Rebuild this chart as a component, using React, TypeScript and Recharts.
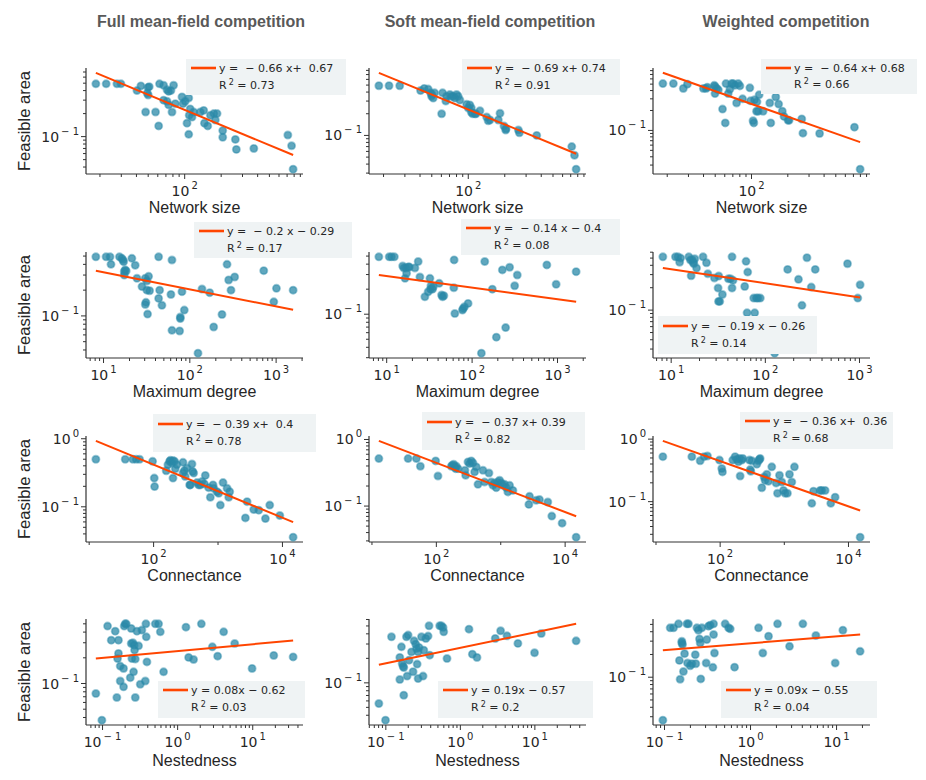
import { ScatterChart, Scatter, XAxis, YAxis } from 'recharts'

type Pair = [number, number]

// ---- data: [x, feasible area] ----
// row 1: network size
const sizeFull: Pair[] = [
  [18.5, 0.49], [22.5, 0.49], [27.6, 0.49], [29.8, 0.49], [40.4, 0.4], [43.5, 0.46], [49.8, 0.44], [51, 0.45],
  [50, 0.35], [49.1, 0.37], [47.6, 0.21], [57.5, 0.21], [61, 0.138], [62, 0.49], [67, 0.47], [71.5, 0.41],
  [73.8, 0.39], [77, 0.4], [81, 0.47], [67, 0.3], [71.5, 0.29], [78.6, 0.21], [73.8, 0.26], [83.7, 0.27],
  [95, 0.33], [96.9, 0.27], [108, 0.32], [101, 0.29], [111, 0.23], [109, 0.19], [115, 0.18], [118.6, 0.21],
  [134.6, 0.21], [104.5, 0.15], [108, 0.107], [143.5, 0.22], [145.5, 0.15], [155, 0.138], [163, 0.19],
  [174, 0.2], [185, 0.2], [179, 0.165], [206, 0.12], [206, 0.098], [262, 0.092], [267, 0.068], [372, 0.07],
  [710, 0.105], [762, 0.076], [785, 0.0375],
]
const sizeSoft: Pair[] = [
  [18.3, 0.49], [22.2, 0.49], [27.2, 0.49], [40.4, 0.42], [43.3, 0.45], [46.7, 0.44], [48.9, 0.39], [49.8, 0.35],
  [50.3, 0.37], [51.4, 0.33], [52.7, 0.39], [60.3, 0.2], [61.4, 0.39], [65.3, 0.3], [66.2, 0.35], [70.5, 0.37],
  [72.8, 0.35], [75.2, 0.35], [77.6, 0.33], [80.1, 0.37], [82.6, 0.35], [85.3, 0.31], [96.9, 0.27], [100, 0.24],
  [103, 0.265], [106, 0.24], [106, 0.21], [108.6, 0.2], [113.5, 0.2], [124.8, 0.22], [115.7, 0.2], [141.8, 0.18],
  [146, 0.16], [151, 0.164], [177, 0.164], [182.8, 0.203], [197, 0.135], [203.6, 0.119], [204.8, 0.124],
  [259, 0.119], [264, 0.109], [367, 0.1], [714, 0.07], [752, 0.053], [776, 0.034],
]
const sizeWeighted: Pair[] = [
  [18.4, 0.51], [22.5, 0.51], [27.2, 0.43], [29.4, 0.5], [39.9, 0.43], [42, 0.43], [43, 0.45], [49.1, 0.48],
  [49.8, 0.46], [49.8, 0.36], [51.4, 0.43], [53.1, 0.41], [57.5, 0.21], [60.6, 0.13], [61.4, 0.51], [64.1, 0.36],
  [66.2, 0.42], [68.4, 0.51], [70.5, 0.51], [72.8, 0.48], [75.2, 0.26], [77.6, 0.51], [80.1, 0.47], [84.3, 0.3],
  [96.9, 0.44], [98.1, 0.28], [103, 0.14], [104.5, 0.13], [106, 0.29], [110, 0.195], [111, 0.27], [113.5, 0.195],
  [115.7, 0.345], [124.8, 0.195], [141.8, 0.26], [144.5, 0.13], [159, 0.32], [168, 0.25], [180, 0.195],
  [186, 0.163], [201, 0.142], [205, 0.142], [261, 0.149], [267, 0.091], [367, 0.09], [714, 0.112], [796, 0.026],
]

// row 2: maximum degree
const degreeFull: Pair[] = [
  [8.15, 0.49], [10.7, 0.49], [11.9, 0.49], [12.2, 0.4], [15.3, 0.49], [16.3, 0.47], [16.8, 0.45], [17.1, 0.43],
  [17.4, 0.33], [17.8, 0.345], [18.3, 0.335], [17.4, 0.3], [21.3, 0.47], [23.3, 0.39], [24.4, 0.275], [27.9, 0.22],
  [30.5, 0.275], [31.8, 0.2], [31.8, 0.256], [33.3, 0.29], [31, 0.144], [30.5, 0.136], [32.4, 0.105], [34.2, 0.197],
  [43.5, 0.49], [43.5, 0.16], [44.7, 0.2], [47.5, 0.133], [60.4, 0.178], [62.1, 0.45], [77.6, 0.097], [81.1, 0.192],
  [77.6, 0.093], [86.3, 0.117], [62.1, 0.0678], [76.2, 0.0667], [124.4, 0.0367], [138.4, 0.206], [170, 0.187],
  [189, 0.0743], [236, 0.104], [270, 0.4], [282, 0.263], [300, 0.2], [331, 0.285], [719, 0.338], [940, 0.146],
  [1009, 0.21], [1575, 0.2],
]
const degreeSoft: Pair[] = [
  [8.1, 0.49], [10.7, 0.49], [11.4, 0.49], [12.3, 0.49], [15.4, 0.38], [15.9, 0.36], [16.4, 0.27], [16.8, 0.36],
  [17.1, 0.31], [17.9, 0.37], [18.4, 0.37], [21.4, 0.36], [23.4, 0.43], [24.5, 0.28], [28, 0.162], [30.6, 0.186],
  [32.1, 0.27], [32.6, 0.2], [33, 0.22], [34.4, 0.2], [35.1, 0.214], [41.2, 0.235], [43.9, 0.17], [45.1, 0.162],
  [46.7, 0.167], [61.1, 0.208], [61.6, 0.45], [62.8, 0.102], [77.1, 0.112], [78.5, 0.117], [81.4, 0.123],
  [89.8, 0.135], [128.5, 0.034], [140.6, 0.43], [172.6, 0.2], [192.3, 0.053], [226, 0.341], [247, 0.069],
  [275, 0.367], [315, 0.22], [338, 0.296], [750, 0.392], [964, 0.229], [1652, 0.325],
]
const degreeWeighted: Pair[] = [
  [8.16, 0.52], [11.1, 0.52], [11.8, 0.52], [12.3, 0.44], [12.6, 0.5], [15.4, 0.52], [16, 0.47], [16.3, 0.29],
  [16.7, 0.475], [17.1, 0.44], [17.4, 0.42], [17.8, 0.49], [18.6, 0.367], [21.8, 0.52], [23.7, 0.433], [24.5, 0.308],
  [28.8, 0.27], [31.5, 0.198], [31.8, 0.131], [32, 0.287], [32.8, 0.131], [35, 0.162], [40.5, 0.264], [42.6, 0.264],
  [44.3, 0.52], [44.3, 0.198], [45.4, 0.251], [60.4, 0.208], [62.4, 0.452], [64, 0.092], [65, 0.324], [75.2, 0.145],
  [77.1, 0.092], [80.3, 0.145], [83.6, 0.145], [88.5, 0.145], [125.6, 0.0264], [172.6, 0.352], [225, 0.259],
  [245, 0.116], [276.7, 0.506], [307.5, 0.204], [339, 0.352], [746, 0.42], [959, 0.145], [1016, 0.219],
]

// row 3: connectance
const connFull: Pair[] = [
  [12.7, 0.5], [36.3, 0.5], [47.7, 0.5], [53.8, 0.5], [60.6, 0.5], [96.5, 0.466], [102.4, 0.264], [103.6, 0.198],
  [157, 0.339], [167, 0.416], [177, 0.466], [182, 0.482], [193, 0.44], [200, 0.477], [212, 0.466], [200, 0.264],
  [217, 0.362], [230, 0.416], [286, 0.45], [300, 0.339], [286, 0.313], [310, 0.279], [330, 0.371], [394, 0.425],
  [404, 0.331], [419, 0.313], [363, 0.21], [372, 0.21], [472, 0.227], [500, 0.21], [531, 0.21], [564, 0.235],
  [635, 0.289], [614, 0.217], [716, 0.191], [760, 0.138], [836, 0.21], [857, 0.187], [964, 0.167], [1024, 0.158],
  [1087, 0.106], [1196, 0.227], [1380, 0.187], [1466, 0.138], [1518, 0.167], [2825, 0.119], [2660, 0.0687],
  [3580, 0.0912], [4290, 0.0892], [5440, 0.0671], [6350, 0.106], [9100, 0.0744], [14650, 0.0358],
]
const connSoft: Pair[] = [
  [12.8, 0.517], [36.4, 0.517], [49, 0.517], [56.5, 0.396], [97.6, 0.477], [106, 0.283], [171, 0.396], [177, 0.41],
  [186, 0.425], [192, 0.387], [199.5, 0.365], [204, 0.396], [217, 0.365], [278, 0.345], [285, 0.29], [310, 0.461],
  [329, 0.435], [349, 0.477], [370, 0.445], [393, 0.326], [417, 0.387], [443, 0.212], [529, 0.345], [561, 0.23],
  [656, 0.314], [713, 0.23], [757, 0.205], [802, 0.222], [851, 0.189], [904, 0.23], [959, 0.244], [1018, 0.222],
  [1081, 0.205], [1146, 0.212], [1217, 0.189], [1291, 0.163], [1371, 0.205], [1545, 0.172], [2735, 0.106],
  [2800, 0.14], [3550, 0.122], [4000, 0.125], [5380, 0.115], [6210, 0.0707], [8980, 0.0554], [14820, 0.0341],
]
const connWeighted: Pair[] = [
  [12.8, 0.524], [36.2, 0.524], [48.8, 0.451], [56.3, 0.524], [63.5, 0.537], [97.6, 0.462], [106, 0.339],
  [108.7, 0.299], [157, 0.462], [171, 0.524], [182, 0.474], [193, 0.435], [200, 0.492], [205, 0.257], [218, 0.462],
  [225, 0.492], [286, 0.462], [294, 0.326], [300, 0.306], [312, 0.451], [373, 0.398], [396, 0.451], [410, 0.474],
  [420, 0.492], [446, 0.167], [485, 0.248], [502, 0.219], [534, 0.274], [566, 0.211], [638, 0.36], [746, 0.198],
  [783, 0.136], [841, 0.264], [914, 0.206], [970, 0.151], [1030, 0.136], [1119, 0.136], [1205, 0.274],
  [1309, 0.206], [1439, 0.36], [2683, 0.094], [2850, 0.147], [3614, 0.151], [3837, 0.151], [4325, 0.151],
  [5305, 0.094], [6200, 0.118], [15200, 0.027],
]

// row 4: nestedness
const nestFull: Pair[] = [
  [0.0815, 0.0764], [0.098, 0.0372], [0.1167, 0.47], [0.1306, 0.322], [0.1476, 0.41], [0.155, 0.0686],
  [0.1585, 0.196], [0.163, 0.322], [0.163, 0.225], [0.172, 0.16], [0.172, 0.107], [0.1905, 0.15], [0.1905, 0.0914],
  [0.1945, 0.47], [0.2, 0.5], [0.207, 0.5], [0.234, 0.117], [0.241, 0.441], [0.241, 0.294], [0.246, 0.196],
  [0.2535, 0.3], [0.259, 0.137], [0.264, 0.281], [0.267, 0.246], [0.273, 0.193], [0.273, 0.0686], [0.287, 0.41],
  [0.302, 0.276], [0.318, 0.098], [0.334, 0.422], [0.371, 0.107], [0.378, 0.5], [0.382, 0.352], [0.39, 0.179],
  [0.504, 0.5], [0.558, 0.5], [0.588, 0.403], [0.65, 0.137], [1.29, 0.457], [1.4, 0.202], [1.63, 0.191],
  [2.07, 0.5], [2.9, 0.269], [3.41, 0.209], [4.1, 0.403], [5.75, 0.294], [9.8, 0.15], [19.05, 0.213], [34.5, 0.205],
]
const nestSoft: Pair[] = [
  [0.0806, 0.0557], [0.099, 0.0348], [0.119, 0.368], [0.154, 0.11], [0.154, 0.205], [0.162, 0.277],
  [0.1656, 0.173], [0.1706, 0.16], [0.174, 0.154], [0.174, 0.0705], [0.189, 0.368], [0.193, 0.121], [0.199, 0.386],
  [0.205, 0.19], [0.221, 0.24], [0.232, 0.137], [0.239, 0.328], [0.252, 0.299], [0.258, 0.264], [0.263, 0.17],
  [0.271, 0.113], [0.271, 0.24], [0.279, 0.272], [0.301, 0.368], [0.316, 0.121], [0.323, 0.252], [0.344, 0.351],
  [0.369, 0.375], [0.38, 0.502], [0.388, 0.219], [0.528, 0.502], [0.557, 0.502], [0.586, 0.479], [0.598, 0.424],
  [0.662, 0.199], [1.306, 0.457], [1.449, 0.225], [1.672, 0.205], [2.94, 0.351], [3.47, 0.436], [4.22, 0.378],
  [5.92, 0.305], [9.9, 0.234], [12.2, 0.404], [35.8, 0.328],
]
const nestWeighted: Pair[] = [
  [0.0957, 0.027], [0.1164, 0.45], [0.1274, 0.45], [0.1456, 0.509], [0.149, 0.167], [0.152, 0.094], [0.159, 0.284],
  [0.159, 0.299], [0.162, 0.27], [0.166, 0.119], [0.171, 0.205], [0.182, 0.509], [0.19, 0.509], [0.185, 0.154],
  [0.199, 0.142], [0.208, 0.151], [0.228, 0.199], [0.231, 0.151], [0.238, 0.45], [0.248, 0.419], [0.255, 0.321],
  [0.26, 0.284], [0.264, 0.095], [0.272, 0.45], [0.305, 0.154], [0.31, 0.315], [0.325, 0.474], [0.34, 0.489],
  [0.365, 0.135], [0.372, 0.509], [0.372, 0.367], [0.381, 0.209], [0.507, 0.509], [0.555, 0.45], [0.581, 0.437],
  [0.652, 0.136], [1.239, 0.45], [1.39, 0.209], [1.62, 0.349], [2.06, 0.509], [2.84, 0.256], [4.06, 0.509],
  [5.75, 0.356], [9.65, 0.154], [11.85, 0.419], [18.8, 0.22],
]

// fitted lines (end points), same panel order
const fitSize: Pair[][] = [
  [[18.5, 0.683], [785, 0.0574]],
  [[18.3, 0.74], [776, 0.0557]],
  [[18.4, 0.741], [796, 0.0666]],
]
const fitDegree: Pair[][] = [
  [[8.15, 0.337], [1575, 0.1177]],
  [[8.1, 0.297], [1652, 0.141]],
  [[8.16, 0.369], [1016, 0.1475]],
]
const fitConn: Pair[][] = [
  [[12.7, 0.932], [14650, 0.0596]],
  [[12.8, 0.955], [14820, 0.0703]],
  [[12.8, 0.94], [15200, 0.072]],
]
const fitNest: Pair[][] = [
  [[0.0815, 0.196], [34.5, 0.319]],
  [[0.0806, 0.167], [35.8, 0.531]],
  [[0.0957, 0.228], [18.8, 0.367]],
]

const equations = [
  ['y =  \u2212 0.66 x+  0.67', 'y =  \u2212 0.69 x+ 0.74', 'y =  \u2212 0.64 x+ 0.68'],
  ['y =  \u2212 0.2 x \u2212 0.29', 'y =  \u2212 0.14 x \u2212 0.4', 'y =  \u2212 0.19 x \u2212 0.26'],
  ['y =  \u2212 0.39 x+  0.4', 'y =  \u2212 0.37 x+ 0.39', 'y =  \u2212 0.36 x+  0.36'],
  ['y = 0.08x \u2212 0.62', 'y = 0.19x \u2212 0.57', 'y = 0.09x \u2212 0.55'],
]
const rSquared = [
  ['0.73', '0.91', '0.66'],
  ['0.17', '0.08', '0.14'],
  ['0.78', '0.82', '0.68'],
  ['0.03', '0.2', '0.04'],
]

const titles = ['Full mean-field competition', 'Soft mean-field competition', 'Weighted competition']
const xLabels = ['Network size', 'Maximum degree', 'Connectance', 'Nestedness']

const grid: Pair[][][] = [
  [sizeFull, sizeSoft, sizeWeighted],
  [degreeFull, degreeSoft, degreeWeighted],
  [connFull, connSoft, connWeighted],
  [nestFull, nestSoft, nestWeighted],
]
const fits = [fitSize, fitDegree, fitConn, fitNest]

// ---- layout ----
const PLOT_W = 217
const PLOT_H = 106
const colLeft = [86, 369, 653]
const rowTop = [68, 252, 436, 619]
const titleCenter = [201, 490, 786]
const labelGap = [39, 39, 39, 41]
const xDecadeStep = [1, 1, 2, 1]
const legendBox = [
  [[186, 59, 160, 36], [462, 59, 158, 36], [761, 59, 156, 35]],
  [[194, 222, 158, 36], [461, 219, 159, 36], [658, 316, 159, 38]],
  [[153, 414, 163, 38], [422, 412, 163, 38], [740, 412, 153, 37]],
  [[158, 681, 147, 37], [438, 681, 155, 37], [721, 681, 156, 37]],
]

const CH_L = 70
const CH_T = 20
const CH_W = 300
const CH_H = 185
const XH = 50

const INK = '#262626'
const AXIS = '#333'
const DOT = '#2b8aa8'
const FIT = '#ff4500'
const TICK_FONT = 'DejaVu Sans, sans-serif'
const LABEL_FONT = 'Liberation Sans, Arial, sans-serif'

function logDomain(vals: number[]): [number, number] {
  const lo = Math.log10(Math.min(...vals))
  const hi = Math.log10(Math.max(...vals))
  const pad = (hi - lo) * 0.05
  return [10 ** (lo - pad), 10 ** (hi + pad)]
}

function logTicks([lo, hi]: [number, number], subs: boolean) {
  const out: number[] = []
  for (let e = Math.floor(Math.log10(lo)); e <= Math.ceil(Math.log10(hi)); e++) {
    for (let m = 1; m < 10; m++) {
      if (m > 1 && !subs) break
      const v = Number((m * 10 ** e).toPrecision(6))
      if (v >= lo && v <= hi) out.push(v)
    }
  }
  return out
}

const decadeOf = (v: number) => {
  const lg = Math.log10(v)
  const e = Math.round(lg)
  return Math.abs(lg - e) < 1e-6 ? e : null
}
const sup = (e: number) => (e < 0 ? `\u2212 ${-e}` : String(e))

function XTick(props: any) {
  const { x, y, payload, step } = props
  const e = decadeOf(payload.value)
  const labeled = e !== null && e % step === 0
  return (
    <g>
      <line x1={x} x2={x} y1={y} y2={y + (labeled ? 5 : 3)} stroke={AXIS} strokeWidth={1} />
      {labeled && (
        <text x={x} y={y + 22} textAnchor="middle" fontSize={14} fontFamily={TICK_FONT} fill={INK} style={{ whiteSpace: 'pre' }}>
          10
          <tspan dx={2} dy={-7} fontSize={10}>{sup(e as number)}</tspan>
        </text>
      )}
    </g>
  )
}

function YTick(props: any) {
  const { x, y, payload } = props
  const e = decadeOf(payload.value)
  const labeled = e !== null
  return (
    <g>
      <line x1={x} x2={x - (labeled ? 5 : 3)} y1={y} y2={y} stroke={AXIS} strokeWidth={1} />
      {labeled && (
        <text x={x - 7} y={y + 5} textAnchor="end" fontSize={14} fontFamily={TICK_FONT} fill={INK} style={{ whiteSpace: 'pre' }}>
          10
          <tspan dx={2} dy={-7} fontSize={10}>{sup(e as number)}</tspan>
        </text>
      )}
    </g>
  )
}

const Dot = (p: any) => (
  <circle cx={p.cx} cy={p.cy} r={3.6} fill={DOT} fillOpacity={0.75} stroke={DOT} strokeOpacity={0.45} strokeWidth={1.8} />
)
const Blank = () => <g />

function Panel({ row, col }: { row: number; col: number }) {
  const pts = grid[row][col].map(([x, y]) => ({ x, y }))
  const fit = fits[row][col].map(([x, y]) => ({ x, y }))
  const all = [...pts, ...fit]
  const xd = logDomain(all.map((d) => d.x))
  const yd = logDomain(all.map((d) => d.y))
  const step = xDecadeStep[row]
  const xt = logTicks(xd, step === 1)
  const yt = logTicks(yd, true)

  return (
    <div style={{ position: 'absolute', left: colLeft[col] - CH_L, top: rowTop[row] - CH_T }}>
      <ScatterChart
        width={CH_W}
        height={CH_H}
        margin={{ top: CH_T, right: CH_W - CH_L - PLOT_W, bottom: CH_H - CH_T - PLOT_H - XH, left: 0 }}
      >
        <XAxis
          type="number"
          dataKey="x"
          scale="log"
          domain={xd}
          allowDataOverflow
          ticks={xt}
          interval={0}
          tickSize={0}
          tickMargin={0}
          tickLine={false}
          axisLine={{ stroke: AXIS, strokeWidth: 1.2 }}
          tick={(p: any) => <XTick {...p} step={step} />}
          height={XH}
          label={{
            value: xLabels[row],
            position: 'insideBottom',
            offset: XH - labelGap[row],
            fill: INK,
            fontSize: 16,
            fontFamily: LABEL_FONT,
          }}
        />
        <YAxis
          type="number"
          dataKey="y"
          scale="log"
          domain={yd}
          allowDataOverflow
          ticks={yt}
          interval={0}
          tickSize={0}
          tickMargin={0}
          tickLine={false}
          axisLine={{ stroke: AXIS, strokeWidth: 1.2 }}
          tick={(p: any) => <YTick {...p} />}
          width={CH_L}
        />
        <Scatter data={pts} shape={Dot} isAnimationActive={false} />
        <Scatter data={fit} shape={Blank} line={{ stroke: FIT, strokeWidth: 2 }} isAnimationActive={false} />
      </ScatterChart>
    </div>
  )
}

function FitLegend({ row, col }: { row: number; col: number }) {
  const [left, top, width, height] = legendBox[row][col]
  const r1 = Math.round(height * 0.36)
  const r2 = Math.round(height * 0.82)
  return (
    <div style={{ position: 'absolute', left, top, width, height, background: '#eff3f4' }}>
      <svg width={width} height={height} style={{ position: 'absolute', left: 0, top: 0 }}>
        <line x1={5} x2={30} y1={r1 - 4} y2={r1 - 4} stroke={FIT} strokeWidth={2.6} />
        <text x={33} y={r1} fontSize={11} fontFamily={TICK_FONT} fill={INK} style={{ whiteSpace: 'pre' }}>
          {equations[row][col]}
        </text>
        <text x={33} y={r2} fontSize={11} fontFamily={TICK_FONT} fill={INK} style={{ whiteSpace: 'pre' }}>
          R
          <tspan dx={2} dy={-4} fontSize={8}>2</tspan>
          <tspan dy={4}>{` = ${rSquared[row][col]}`}</tspan>
        </text>
      </svg>
    </div>
  )
}

export default function App() {
  const cells: { row: number; col: number }[] = []
  for (let r = 0; r < 4; r++) for (let c = 0; c < 3; c++) cells.push({ row: r, col: c })

  return (
    <div style={{ position: 'absolute', left: 0, top: 0, width: 926, height: 780, background: '#fff', overflow: 'hidden' }}>
      {titles.map((t, c) => (
        <div
          key={t}
          style={{
            position: 'absolute',
            left: titleCenter[c] - 150,
            width: 300,
            top: 13,
            textAlign: 'center',
            fontFamily: LABEL_FONT,
            fontWeight: 'bold',
            fontSize: 16,
            lineHeight: '18px',
            color: '#595959',
          }}
        >
          {t}
        </div>
      ))}
      {rowTop.map((top, r) => (
        <div
          key={r}
          style={{
            position: 'absolute',
            left: 24,
            top: top + PLOT_H / 2,
            transform: 'translate(-50%, -50%) rotate(-90deg)',
            whiteSpace: 'nowrap',
            fontFamily: LABEL_FONT,
            fontSize: 16.5,
            color: INK,
          }}
        >
          Feasible area
        </div>
      ))}
      {cells.map((c) => (
        <Panel key={`p${c.row}${c.col}`} row={c.row} col={c.col} />
      ))}
      {cells.map((c) => (
        <FitLegend key={`l${c.row}${c.col}`} row={c.row} col={c.col} />
      ))}
    </div>
  )
}
